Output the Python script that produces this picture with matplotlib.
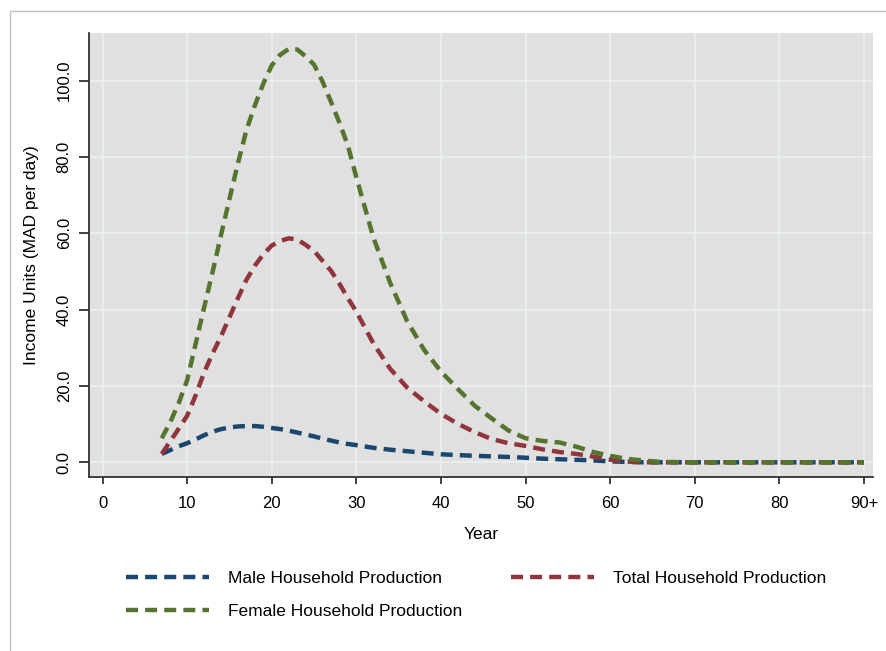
import numpy as np
import matplotlib.pyplot as plt
from matplotlib.patches import Rectangle

plt.rcParams['font.family'] = ['Liberation Sans', 'DejaVu Sans']

# data
years = [7, 8, 9, 10, 11, 12, 13, 14, 15, 16, 17, 18, 19, 20, 21, 22, 23, 24, 25,
         26, 27, 28, 29, 30, 32, 34, 36, 38, 40, 42, 44, 46, 48, 50, 52, 54, 56,
         58, 60, 62, 64, 66, 70, 80, 90]
male = [2.2, 3.2, 4.2, 5.0, 6.0, 7.1, 8.0, 8.7, 9.1, 9.4, 9.5, 9.5, 9.3, 9.0,
        8.7, 8.3, 7.8, 7.3, 6.8, 6.2, 5.7, 5.2, 4.8, 4.5, 3.8, 3.3, 2.9, 2.5,
        2.1, 1.9, 1.7, 1.55, 1.4, 1.2, 0.95, 0.8, 0.65, 0.5, 0.25, 0.1, 0.0,
        0.0, 0.0, 0.0, 0.0]
total = [2.2, 5.5, 8.8, 12.2, 17.5, 23.5, 28.5, 33.0, 38.0, 43.0, 47.8, 51.5,
         54.5, 56.8, 58.0, 58.7, 58.4, 57.0, 55.4, 52.8, 50.2, 46.8, 43.0, 39.5,
         31.2, 24.5, 19.6, 16.0, 12.7, 10.1, 7.9, 6.1, 5.0, 4.3, 3.4, 2.7, 2.2,
         1.5, 0.7, 0.2, 0.0, 0.0, 0.0, 0.0, 0.0]
female = [6.3, 10.5, 15.5, 21.5, 31.0, 40.5, 49.8, 59.5, 69.0, 78.3, 87.0, 93.5,
          99.2, 104.0, 106.8, 108.3, 108.2, 106.4, 104.2, 99.8, 94.5, 89.0, 83.0,
          74.7, 59.0, 47.0, 37.0, 29.5, 23.8, 19.2, 14.8, 11.5, 8.3, 6.3, 5.6,
          5.2, 4.1, 2.7, 1.7, 0.9, 0.45, 0.1, 0.0, 0.0, 0.0]

xticks = [0, 10, 20, 30, 40, 50, 60, 70, 80, 90]
xticklabels = ['0', '10', '20', '30', '40', '50', '60', '70', '80', '90+']
yticks = [0, 20, 40, 60, 80, 100]

c_male = '#1a476f'
c_total = '#90353b'
c_female = '#55752f'

fig = plt.figure(figsize=(8.86, 6.51), dpi=100)
fig.patches.append(Rectangle((10 / 886, -0.05), 1.0, 1 - 11 / 651 + 0.05,
                             transform=fig.transFigure, fill=False,
                             edgecolor='#b8bfc2', linewidth=1.0))

ax = fig.add_axes([89 / 886, 1 - 477 / 651, (873 - 89) / 886, (477 - 33) / 651])
ax.set_facecolor('#e0e0e0')

dash = (2.7, 1.6)
lw = 3.2
l1, = ax.plot(years, male, color=c_male, lw=lw, dashes=dash,
              label='Male Household Production')
l3, = ax.plot(years, total, color=c_total, lw=lw, dashes=dash,
              label='Total Household Production')
l2, = ax.plot(years, female, color=c_female, lw=lw, dashes=dash,
              label='Female Household Production')

ax.set_xlim(-1.6, 91.07)
ax.set_ylim(-3.85, 112.5)
ax.set_xticks(xticks)
ax.set_xticklabels(xticklabels)
ax.set_yticks(yticks)
ax.set_yticklabels(['%.1f' % v for v in yticks], rotation=90, va='center')
ax.grid(True, color='#eaf1f2', linewidth=1.2)
ax.set_axisbelow(True)

for s in ['top', 'right']:
    ax.spines[s].set_visible(False)
for s in ['left', 'bottom']:
    ax.spines[s].set_color('#333333')
    ax.spines[s].set_linewidth(1.3)
ax.tick_params(width=1.3, color='#333333', labelsize=12)
ax.tick_params(axis='x', length=5, pad=9)
ax.tick_params(axis='y', length=7, pad=5.5)

ax.set_xlabel('Year', fontsize=12.5, labelpad=11)
ax.set_ylabel('Income Units (MAD per day)', fontsize=12.5, labelpad=13)

fig.legend([l1, l2, l3], [l1.get_label(), l2.get_label(), l3.get_label()],
           ncol=2, loc='upper left', bbox_to_anchor=(110 / 886, 1 - 555 / 651),
           frameon=False, fontsize=12.5, handlelength=4.8, handletextpad=1.1,
           columnspacing=2.8, labelspacing=1.02)

fig.savefig('out.png', dpi=100)
